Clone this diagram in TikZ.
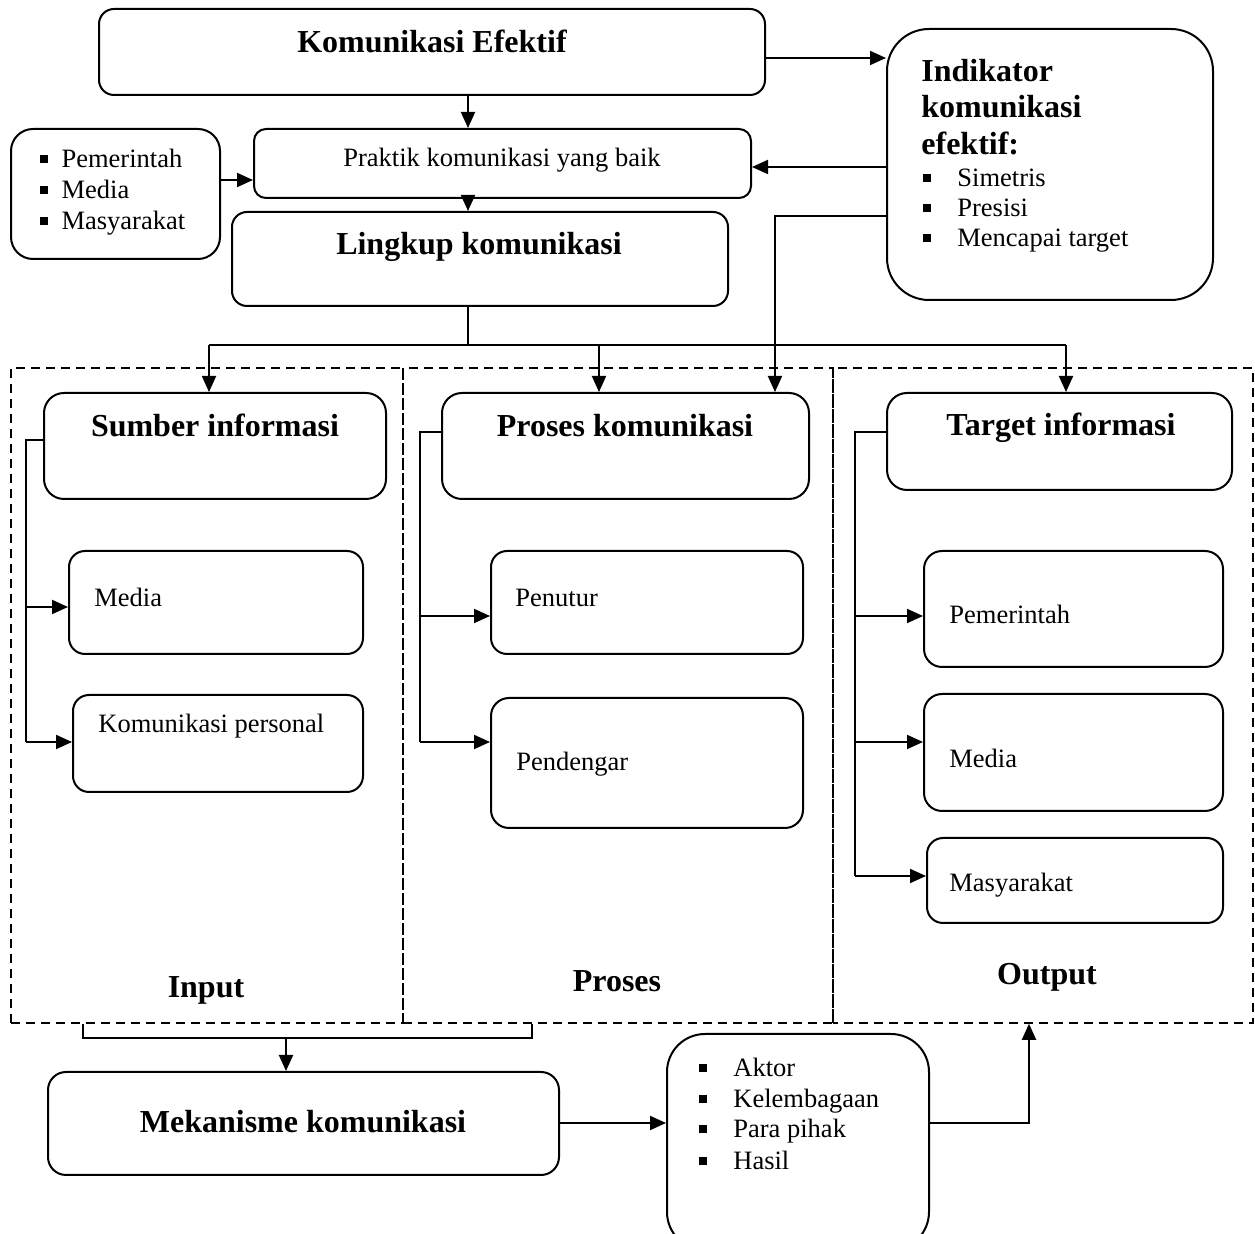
\documentclass[tikz,border=0pt]{standalone}
\usepackage{fontspec}
\setmainfont{Liberation Serif}
\usetikzlibrary{arrows.meta,fit}
% small filled square used as list bullet
\newcommand\sqmark{\rule[2.3pt]{4pt}{4pt}}
\begin{document}
\begin{tikzpicture}[x=0.5pt,y=-0.5pt,
  rbox/.style={draw, line width=1pt, rounded corners=#1, inner sep=0pt},
  panel/.style={draw, line width=0.8pt, dash pattern=on 4.5pt off 3pt, inner sep=0pt},
  ln/.style={line width=1pt},
  arr/.style={line width=1pt, -{Triangle[length=8pt,width=7pt]}},
  tx/.style={font=\fontsize{13.25pt}{15pt}\selectfont, inner sep=0pt},
  hd/.style={font=\fontsize{16pt}{19pt}\selectfont\bfseries, inner sep=0pt}]
\useasboundingbox (0,0) rectangle (1255,1234);
\clip (0,0) rectangle (1255,1234);

% ---- upper part ----
\node[rbox=7.5pt, fit={(99,9)(765,95)}] (ke) {};
\node[hd, anchor=base] (keT) at (432,53) {Komunikasi Efektif};

\node[rbox=6pt, fit={(254,129)(751,198)}] (prak) {};
\node[tx, anchor=base] (prakT) at (502,167) {Praktik komunikasi yang baik};

\node[rbox=11pt, fit={(11,129)(220,259)}] (llist) {};
\node[tx, anchor=base west] (ll1) at (40,168) {\sqmark\hspace{6.6pt}Pemerintah};
\node[tx, anchor=base west] (ll2) at (40,199) {\sqmark\hspace{6.6pt}Media};
\node[tx, anchor=base west] (ll3) at (40,230) {\sqmark\hspace{6.6pt}Masyarakat};

\node[rbox=7.5pt, fit={(232,212)(728,306)}] (ling) {};
\node[hd, anchor=base] (lingT) at (479,255) {Lingkup komunikasi};

\node[rbox=21pt, fit={(887,29)(1213,300)}] (ind) {};
\node[hd, anchor=base west] (ind1) at (921,82) {Indikator};
\node[hd, anchor=base west] (ind2) at (921,118) {komunikasi};
\node[hd, anchor=base west] (ind3) at (921,155) {efektif:};
\node[tx, anchor=base west] (ind4) at (923,187) {\sqmark\hspace{13pt}Simetris};
\node[tx, anchor=base west] (ind5) at (923,217) {\sqmark\hspace{13pt}Presisi};
\node[tx, anchor=base west] (ind6) at (923,247) {\sqmark\hspace{13pt}Mencapai target};

% ---- three dashed panels ----
\node[panel, fit={(11,368)(403,1023)}] (inp) {};
\node[panel, fit={(403,368)(833,1023)}] (prs) {};
\node[panel, dash phase=2pt, fit={(833,368)(1253,1023)}] (outp) {};
\node[hd, anchor=base] (inpT) at (206,998) {Input};
\node[hd, anchor=base] (prsT) at (617,992) {Proses};
\node[hd, anchor=base] (outT) at (1047,985) {Output};

% Input column
\node[rbox=10pt, fit={(44,393)(386,499)}] (sumber) {};
\node[hd, anchor=base] (sumberT) at (215,437) {Sumber informasi};
\node[rbox=8pt, fit={(69,551)(363,654)}] (media1) {};
\node[tx, anchor=base west] (media1T) at (94,607) {Media};
\node[rbox=8pt, fit={(73,695)(363,792)}] (kompers) {};
\node[tx, anchor=base west] (kompersT) at (98,733) {Komunikasi personal};

% Proses column
\node[rbox=10pt, fit={(442,393)(809,499)}] (proses) {};
\node[hd, anchor=base] (prosesT) at (625,437) {Proses komunikasi};
\node[rbox=8pt, fit={(491,551)(803,654)}] (penutur) {};
\node[tx, anchor=base west] (penuturT) at (515,607) {Penutur};
\node[rbox=9pt, fit={(491,698)(803,828)}] (pendengar) {};
\node[tx, anchor=base west] (pendengarT) at (516,771) {Pendengar};

% Output column
\node[rbox=10pt, fit={(887,393)(1232,490)}] (target) {};
\node[hd, anchor=base] (targetT) at (1061,436) {Target informasi};
\node[rbox=9pt, fit={(924,551)(1223,667)}] (pem) {};
\node[tx, anchor=base west] (pemT) at (949,624) {Pemerintah};
\node[rbox=9pt, fit={(924,694)(1223,811)}] (med2) {};
\node[tx, anchor=base west] (med2T) at (949,768) {Media};
\node[rbox=8pt, fit={(927,838)(1223,923)}] (mas) {};
\node[tx, anchor=base west] (masT) at (949,892) {Masyarakat};

% ---- lower part ----
\node[rbox=9pt, fit={(48,1072)(559,1175)}] (mek) {};
\node[hd, anchor=base] (mekT) at (303,1133) {Mekanisme komunikasi};
\node[rbox=19pt, fit={(667,1034)(929,1250)}] (blist) {};
\node[tx, anchor=base west] (b1) at (699,1077) {\sqmark\hspace{13pt}Aktor};
\node[tx, anchor=base west] (b2) at (699,1108) {\sqmark\hspace{13pt}Kelembagaan};
\node[tx, anchor=base west] (b3) at (699,1138) {\sqmark\hspace{13pt}Para pihak};
\node[tx, anchor=base west] (b4) at (699,1170) {\sqmark\hspace{13pt}Hasil};

% ---- routing points ----
\coordinate (spine) at (468,345);
\coordinate (busL) at (209,345);
\coordinate (busM) at (599,345);
\coordinate (busR) at (1066,345);
\coordinate (kei) at (800,58);
\coordinate (ipk) at (800,167);
\coordinate (lp) at (236,180);
\coordinate (ik) at (775,216);
\coordinate (st) at (26,440);
\coordinate (sb) at (26,742);
\coordinate (pt) at (420,432);
\coordinate (pb) at (420,742);
\coordinate (tt) at (855,432);
\coordinate (tb) at (855,876);
\coordinate (bl) at (83,1038);
\coordinate (br) at (532,1038);
\coordinate (bm) at (286,1038);
\coordinate (bo) at (1029,1123);

% ---- connectors ----
\draw[arr] (ke.south -| spine) -- (prak.north -| spine);
\draw[arr] (prak.south -| spine) -- (ling.north -| spine);
\draw[arr] (ke.east |- kei) -- (ind.west |- kei);
\draw[arr] (ind.west |- ipk) -- (prak.east |- ipk);
\draw[arr] (llist.east |- lp) -- (prak.west |- lp);
\draw[arr] (ind.west |- ik) -- (ik) -- (ik |- proses.north);

\draw[ln] (ling.south -| spine) -- (spine);
\draw[ln] (busL) -- (busR);
\draw[arr] (busL) -- (sumber.north -| busL);
\draw[arr] (busM) -- (proses.north -| busM);
\draw[arr] (busR) -- (target.north -| busR);

\draw[ln] (sumber.west |- st) -- (st) -- (sb);
\draw[arr] (st |- 0,607) -- (media1.west |- 0,607);
\draw[arr] (sb) -- (kompers.west |- sb);

\draw[ln] (proses.west |- pt) -- (pt) -- (pb);
\draw[arr] (pt |- 0,616) -- (penutur.west |- 0,616);
\draw[arr] (pb) -- (pendengar.west |- pb);

\draw[ln] (target.west |- tt) -- (tt) -- (tb);
\draw[arr] (tt |- 0,616) -- (pem.west |- 0,616);
\draw[arr] (tt |- 0,742) -- (med2.west |- 0,742);
\draw[arr] (tb) -- (mas.west |- tb);

\draw[ln] (inp.south -| bl) -- (bl) -- (br) -- (prs.south -| br);
\draw[arr] (bm) -- (mek.north -| bm);
\draw[arr] (mek.east |- bo) -- (blist.west |- bo);
\draw[arr] (blist.east |- bo) -- (bo) -- (outp.south -| bo);
\end{tikzpicture}
\end{document}
